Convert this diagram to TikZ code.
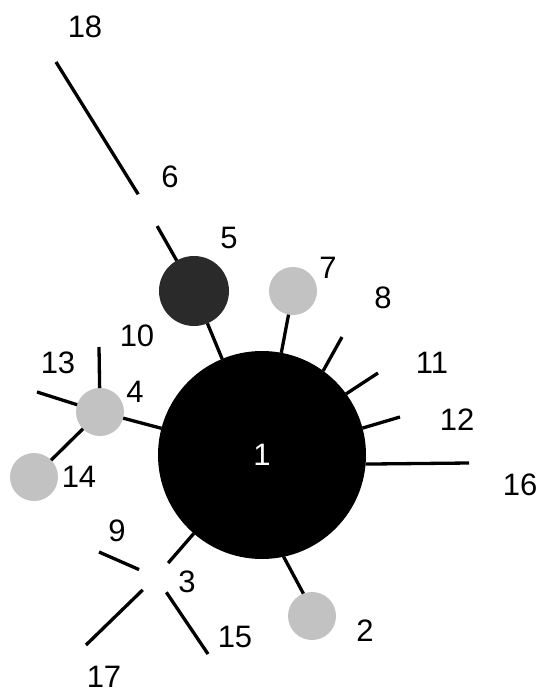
\documentclass[tikz,border=0pt]{standalone}
\usepackage{fontspec}
\setmainfont{Liberation Sans}
\definecolor{stipple}{HTML}{C2C2C2}
\definecolor{darkball}{HTML}{2A2A2A}
\begin{document}
\begin{tikzpicture}[x=1pt,y=-1pt,
  lbl/.style={font=\fontsize{31}{36}\selectfont, inner sep=0pt},
  link/.style={line width=3.3pt},
  bigball/.style={circle, fill=black, minimum size=208pt, inner sep=0pt, outer sep=0pt, text=white, font=\fontsize{31}{36}\selectfont},
  darkballs/.style={circle, fill=darkball, minimum size=70pt, inner sep=0pt, outer sep=0pt},
  lightball/.style={circle, fill=stipple, minimum size=48pt, inner sep=0pt, outer sep=0pt},
  junc/.style={circle, minimum size=37pt, inner sep=0pt, outer sep=0pt}]
\useasboundingbox[fill=white] (0,0) rectangle (540,695);

% balls
\node[bigball] (n1) at (262,455) {1};
\node[darkballs] (n5) at (194,291) {};
\node[lightball] (n7) at (293,291) {};
\node[lightball] (n4) at (100,412) {};
\node[lightball] (n14) at (34,477) {};
\node[lightball] (n2) at (312,616) {};
% junctions
\node[junc] (n6) at (148,210) {};
\node[junc] (n3) at (156,577) {};
% free ends
\coordinate (e18) at (56,62);
\coordinate (e8) at (342,337);
\coordinate (e11) at (378,373);
\coordinate (e12) at (400,417);
\coordinate (e16) at (469,463);
\coordinate (e10) at (99,347);
\coordinate (e13) at (37,392);
\coordinate (e9) at (99,552);
\coordinate (e17) at (86,645);
\coordinate (e15) at (208,654);

% links
\draw[link] (n6) -- (e18);
\draw[link] (n6) -- (n5);
\draw[link] (n5) -- (n1);
\draw[link] (n7) -- (n1);
\draw[link] (n1.54) -- (e8);
\draw[link] (n1.36) -- (e11);
\draw[link] (n1.15) -- (e12);
\draw[link] (n1.-5) -- (e16);
\draw[link] (n1.-78) -- (n2.111);
\draw[link] (n4) -- (n1);
\draw[link] (n4) -- (e10);
\draw[link] (n4) -- (e13);
\draw[link] (n4) -- (n14);
\draw[link] (n1) -- (n3);
\draw[link] (n3) -- (e9);
\draw[link] (n3) -- (e17);
\draw[link] (n3) -- (e15);

% labels
\node[lbl] (l18) at (85,27) {18};
\node[lbl] (l6) at (170,177) {6};
\node[lbl] (l5) at (229,238) {5};
\node[lbl] (l7) at (328,268) {7};
\node[lbl] (l8) at (383,298) {8};
\node[lbl] (l10) at (137,336) {10};
\node[lbl] (l13) at (58,363) {13};
\node[lbl] (l4) at (135,392) {4};
\node[lbl] (l11) at (432,363) {11};
\node[lbl] (l12) at (457,420) {12};
\node[lbl] (l14) at (79,477) {14};
\node[lbl] (l16) at (520,485) {16};
\node[lbl] (l9) at (117,531) {9};
\node[lbl] (l3) at (187,582) {3};
\node[lbl] (l2) at (365,631) {2};
\node[lbl] (l15) at (235,637) {15};
\node[lbl] (l17) at (104,677) {17};
\end{tikzpicture}
\end{document}
